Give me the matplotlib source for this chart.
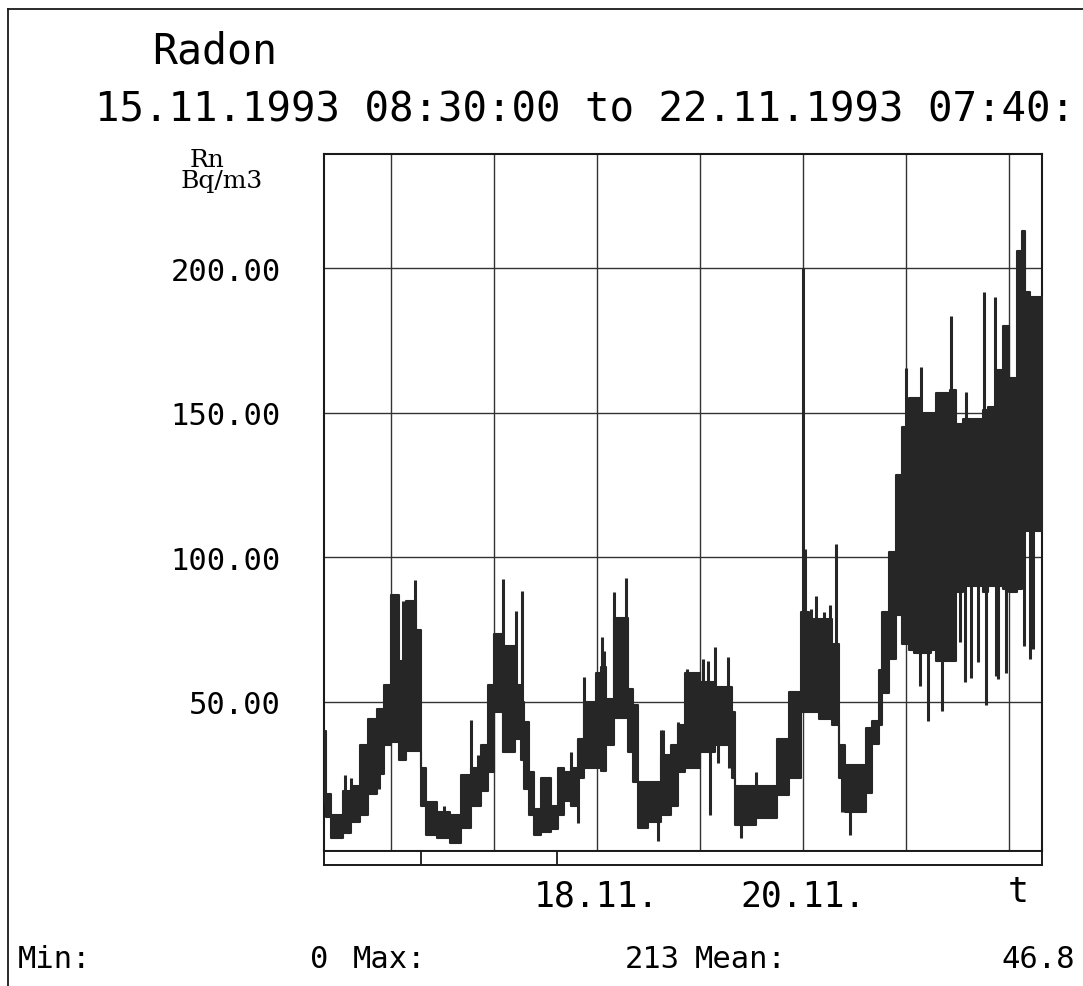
import numpy as np
import matplotlib
matplotlib.use('Agg')
import matplotlib.pyplot as plt
from matplotlib.lines import Line2D

# hours after 15.11.1993 08:30 - edges of the stretches
t_edges = [0, 0.4, 1.6, 4.4, 6.4, 8.3, 10.3, 12.3, 13.9, 15.5,
           17.5, 19.1, 21.5, 22.7, 23.8, 26.2, 29.4, 31.8, 34.2, 36.6,
           38.2, 39.5, 41.7, 44.5, 45.8, 46.6, 47.8, 48.9, 50.5, 52.8,
           54.4, 55.9, 57.5, 59.1, 60.6, 63.3, 64.5, 65.7, 67.6, 70.7,
           71.9, 73.1, 75.4, 78.5, 80.9, 82.4, 84.0, 87.5, 91.0, 95.0,
           95.8, 100.5, 105.5, 108.2, 111.0, 112.9, 115.2, 118.3, 119.9, 121.4,
           126.1, 127.7, 129.2, 130.0, 131.6, 133.2, 134.7, 136.3, 137.5, 139.0,
           141.4, 142.5, 145.7, 147.2, 148.8, 150.7, 153.5, 154.7, 156.6, 158.2,
           159.4, 161.3, 162.5, 163.3, 164.4, 167.2]

# upper / lower edge of the dark band in each stretch (Bq/m3)
band_hi = [40, 18, 11, 19, 21, 35, 44, 47.7, 55.7,
           87, 64, 85, 75, 27, 15.5, 12, 11, 24.7, 27,
           35, 55.7, 73.6, 69.5, 55.7, 50, 43, 25.8, 13, 23.5,
           14, 27, 25.8, 27, 37, 49.9, 60, 62, 51, 79,
           54.6, 48.8, 22.4, 22.4, 31.6, 35, 42, 60, 57, 55,
           46.5, 21, 21, 37, 53.4, 81, 78.7, 78.7, 70, 35,
           28, 41, 43.4, 61, 81, 102, 128.5, 145, 155, 155,
           150, 150, 157, 158, 146, 148, 148, 151, 152, 165,
           180, 162, 206, 213, 192, 190]
band_lo = [15, 10, 3, 4.5, 8.6, 11, 18, 25, 35,
           36, 30, 33, 33, 14, 4, 3, 1, 6.4, 14,
           19, 25.8, 46.5, 32.7, 37, 30, 20, 10.9, 4, 5,
           6, 11, 15.6, 14, 23.5, 27, 27, 26, 35, 44.5,
           32.7, 22.4, 6.4, 8.6, 11, 14, 25.8, 27, 32.7, 35,
           23.5, 7.4, 9.7, 17.8, 23.5, 46.5, 46.5, 44, 42, 23.5,
           12, 18.5, 35.4, 42, 53, 65, 80, 70, 68, 67,
           67, 68, 64, 64, 88, 90, 90, 88, 90, 90,
           89, 88, 89, 110, 109, 109]

# single readings standing out above the band
spike_t = [4.9, 6.4, 8.5, 18.3, 21.3, 28.0, 34.3, 35.8, 41.7, 44.8,
           46.2, 57.6, 60.6, 64.7, 65.3, 67.6, 70.4, 78.5, 78.9, 82.4,
           84.6, 88.3, 89.5, 91.1, 94.1, 100.6, 111.5, 112.1, 113.3, 114.5,
           116.4, 117.9, 119.3, 135.5, 139.0, 146.1, 149.4, 153.6, 156.2]
spike_top = [24.7, 23.5, 35.6, 85, 92.3, 13.8, 43.7, 31.6, 92.5, 81.6,
             88.5, 32.8, 58.6, 72.4, 67.6, 88, 92.7, 40.3, 40.3, 43,
             61.5, 64.9, 64, 69, 65.5, 25.8, 200, 103, 82, 86.8,
             81, 83.4, 104.5, 165.5, 166, 183.5, 157.4, 192, 190]

# single readings dropping below the band
dip_t = [12.9, 59.1, 77.7, 89.9, 91.8, 94.4, 97.1, 120.7, 122.6, 138.8,
         140.6, 143.9, 148.0, 149.2, 150.7, 152.3, 154.1, 156.6, 157.0, 158.9,
         162.9, 164.4, 165.2]
dip_bottom = [20, 8, 1.7, 10.9, 29, 27, 2.8, 12, 4, 55.5,
              43.4, 47, 70.7, 56.8, 58.4, 63.7, 49, 59, 58, 60,
              69.5, 65, 68.3]

day_ticks = [15.5, 39.5, 63.5, 87.5, 111.5, 135.5, 159.5]
day_labels = ['', '', '18.11.', '', '20.11.', '', '']
y_ticks = [50, 100, 150, 200]
y_labels = ['50.00', '100.00', '150.00', '200.00']
bar_marks = [22.6, 54.3]

title = 'Radon'
period = '15.11.1993 08:30:00 to 22.11.1993 07:40:'   # printout is cut here
stat_min, stat_max, stat_mean = '0', '213', '46.8'

ink = '#262626'
mono = ['DejaVu Sans Mono']
W, H = 1083, 987

fig = plt.figure(figsize=(W / 100, H / 100), dpi=100)
fig.patch.set_facecolor('white')

ax = fig.add_axes([324 / W, 1 - 852 / H, 718 / W, 697 / H])
ax.set_xlim(0, 167.2)
ax.set_ylim(-1.6, 239.6)

# the dense 10 min record, drawn as its envelope plus the single outliers
hi = np.array(band_hi + [band_hi[-1]])
lo = np.array(band_lo + [band_lo[-1]])
ax.fill_between(t_edges, lo, hi, step='post', facecolor=ink,
                edgecolor=ink, lw=1.5, zorder=3)
idx = np.searchsorted(t_edges, spike_t, side='right') - 1
ax.vlines(spike_t, np.array(band_lo)[idx], spike_top, color=ink, lw=2.2, zorder=3)
idx = np.searchsorted(t_edges, dip_t, side='right') - 1
ax.vlines(dip_t, dip_bottom, np.array(band_hi)[idx], color=ink, lw=2.2, zorder=3)

ax.set_xticks(day_ticks)
ax.set_xticklabels(day_labels, family=mono, fontsize=25)
ax.set_yticks(y_ticks)
ax.set_yticklabels(y_labels, family=mono, fontsize=22)
ax.tick_params(length=0)
ax.tick_params(axis='x', pad=20)
ax.tick_params(axis='y', pad=31)
ax.grid(True, color='#333333', lw=1.0)
for s in ax.spines.values():
    s.set_linewidth(1.5)
    s.set_color('#1a1a1a')

# time bar under the plot
bax = fig.add_axes([324 / W, 1 - 866 / H, 718 / W, 14 / H])
bax.set_xlim(0, 167.2)
bax.set_ylim(0, 1)
bax.vlines(bar_marks, 0, 1, color='#1a1a1a', lw=1.3)
bax.set_xticks([])
bax.set_yticks([])
for s in bax.spines.values():
    s.set_linewidth(1.4)
    s.set_color('#1a1a1a')

fig.text(152 / W, 1 - 64 / H, title, family=mono, fontsize=30, va='baseline')
fig.text(95 / W, 1 - 122 / H, period, family=mono, fontsize=29.3, va='baseline')
fig.text(190 / W, 1 - 167 / H, 'Rn', family='DejaVu Serif', fontsize=18,
         va='baseline')
fig.text(181 / W, 1 - 188 / H, 'Bq/m3', family='DejaVu Serif', fontsize=18,
         va='baseline')
fig.text(1018 / W, 1 - 902 / H, 't', family=mono, fontsize=25, ha='center',
         va='baseline')

# statistics line
fig.text(18 / W, 1 - 968 / H, 'Min:', family=mono, fontsize=22, va='baseline')
fig.text(328 / W, 1 - 968 / H, stat_min, family=mono, fontsize=22,
         ha='right', va='baseline')
fig.text(353 / W, 1 - 968 / H, 'Max:', family=mono, fontsize=22, va='baseline')
fig.text(680 / W, 1 - 968 / H, stat_max, family=mono, fontsize=22,
         ha='right', va='baseline')
fig.text(695 / W, 1 - 968 / H, 'Mean:', family=mono, fontsize=22, va='baseline')
fig.text(1075 / W, 1 - 968 / H, stat_mean, family=mono, fontsize=22,
         ha='right', va='baseline')

# page frame of the printout
fig.add_artist(Line2D([8 / W, 8 / W], [0, 1 - 10 / H], transform=fig.transFigure,
                      color='#1a1a1a', lw=1.3))
fig.add_artist(Line2D([8 / W, 1], [1 - 10 / H, 1 - 10 / H], transform=fig.transFigure,
                      color='#1a1a1a', lw=1.3))

fig.savefig('out.png', dpi=100)
